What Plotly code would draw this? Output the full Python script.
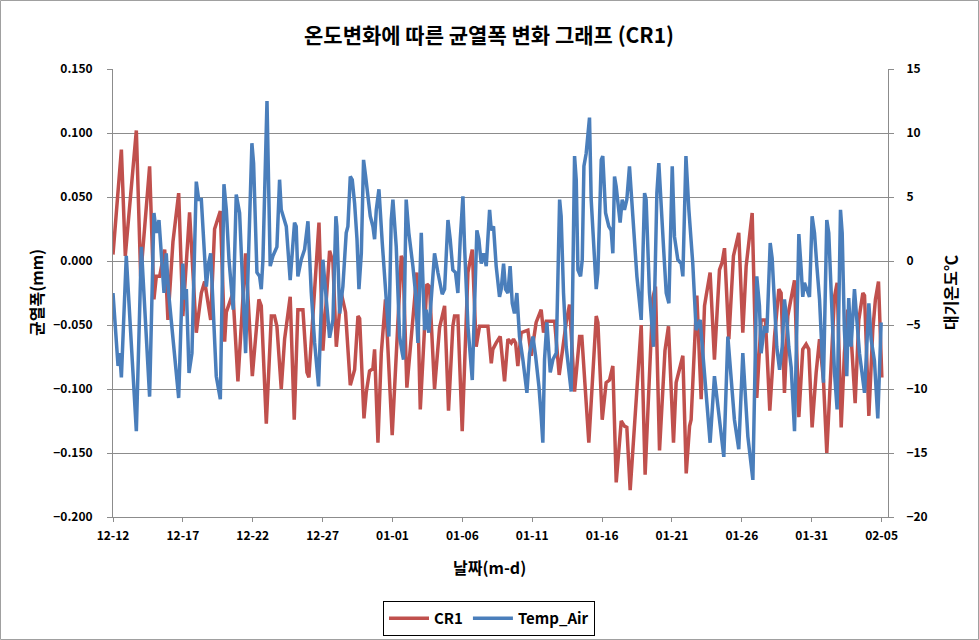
import plotly.graph_objects as go
import pandas as pd

START = "2013-12-12"
FONT = "Noto Sans CJK KR"

# CR1 crack width (mm): day offset from 12-12, value
cr_days = [0, 0.6, 0.88, 1.67, 1.98, 2.62, 2.93, 3.1, 3.34, 3.7, 3.93, 4.29, 4.7, 5.0, 5.48, 5.96, 6.32, 6.56, 6.99, 7.27,
           7.68, 7.99, 8.11, 8.58, 8.94, 9.49, 9.97, 10.44, 10.61, 10.97, 11.33, 11.56, 11.73, 12.04, 12.28, 12.68, 12.97,
           13.23, 13.59, 13.88, 14.02, 14.74, 15.02, 15.5, 15.74, 15.98, 16.33, 16.64, 16.98, 17.29, 17.53, 17.65, 17.96,
           18.12, 18.36, 18.6, 18.72, 18.96, 19.2, 19.5, 19.98, 20.63, 20.75, 21.03, 21.75, 21.99, 22.46, 22.65, 23.01,
           23.37, 23.73, 24.01, 24.32, 24.44, 24.68, 24.99, 25.4, 25.71, 25.99, 26.23, 26.47, 26.83, 27.07, 27.18, 27.42,
           27.71, 28.02, 28.26, 28.5, 28.66, 28.81, 28.97, 29.21, 29.69, 29.93, 30.28, 30.64, 30.81, 31.0, 31.24, 31.6,
           31.93, 32.19, 32.43, 32.67, 33.03, 33.39, 33.55, 34.05, 34.58, 34.7, 35.01, 35.29, 35.53, 35.77, 36.01, 36.37,
           36.6, 36.77, 37.01, 37.8, 38.08, 38.63, 38.82, 39.11, 39.5, 39.75, 40.11, 40.3, 40.54, 40.78, 41.02, 41.26,
           41.37, 41.78, 42.09, 42.33, 42.45, 42.73, 43.04, 43.4, 43.59, 43.76, 44.07, 44.4, 44.78, 45.07, 45.31, 45.74,
           46.07, 46.38, 46.69, 47.0, 47.34, 47.65, 47.81, 48.05, 48.29, 48.53, 48.77, 49.08, 49.25, 49.36, 49.6, 49.79,
           50.03, 50.32, 50.56, 50.84, 51.08, 51.34, 51.63, 51.82, 52.11, 52.34, 52.58, 52.82, 53.11, 53.37, 53.66, 53.78,
           54.09, 54.37, 54.56, 54.78, 55.02]
cr_vals = [0.005, 0.087, 0.004, 0.102, -0.012, 0.074, -0.030, -0.012, -0.012, 0.009, -0.046, 0.015, 0.053, -0.043, 0.038,
           -0.056, -0.025, -0.016, -0.046, 0.025, 0.039, -0.063, -0.040, -0.025, -0.094, 0.006, -0.090, -0.030, -0.035,
           -0.127, -0.043, -0.043, -0.051, -0.100, -0.061, -0.028, -0.124, -0.038, -0.038, -0.087, -0.091, 0.030, -0.070,
           0.008, -0.001, -0.067, -0.025, -0.040, -0.097, -0.085, -0.043, -0.045, -0.123, -0.103, -0.086, -0.084, -0.069,
           -0.142, -0.072, -0.030, -0.136, 0.004, 0.001, -0.099, -0.009, -0.116, -0.018, -0.020, -0.100, -0.052, -0.035,
           -0.117, -0.051, -0.043, -0.043, -0.133, -0.009, 0.009, -0.067, -0.051, -0.051, -0.051, -0.080, -0.069, -0.064,
           -0.059, -0.094, -0.061, -0.064, -0.061, -0.064, -0.082, -0.056, -0.054, -0.074, -0.048, -0.038, -0.056, -0.047,
           -0.047, -0.047, -0.089, -0.067, -0.048, -0.034, -0.102, -0.059, -0.059, -0.142, -0.043, -0.048, -0.124, -0.095,
           -0.093, -0.082, -0.173, -0.125, -0.129, -0.130, -0.179, -0.050, -0.167, -0.029, -0.020, -0.148, -0.070, -0.051,
           -0.142, -0.095, -0.085, -0.074, -0.166, -0.129, -0.124, -0.027, -0.108, -0.035, -0.027, -0.009, -0.077, -0.007,
           -0.001, 0.010, -0.061, 0.004, 0.022, -0.056, -0.004, 0.0375, -0.107, -0.046, -0.046, -0.117, -0.059, -0.022,
           -0.025, -0.103, -0.043, -0.028, -0.015, -0.122, -0.093, -0.069, -0.065, -0.069, -0.130, -0.087, -0.061, -0.093,
           -0.150, -0.087, -0.028, -0.017, -0.130, -0.072, -0.038, -0.059, -0.111, -0.046, -0.025, -0.027, -0.121, -0.054,
           -0.030, -0.016, -0.091]

# Air temperature (deg C): day offset from 12-12, value
t_days = [0, 0.36, 0.48, 0.6, 0.95, 1.67, 2.03, 2.62, 2.93, 3.1, 3.29, 3.5, 3.65, 3.81, 3.98, 4.7, 5.0, 5.13, 5.25, 5.44,
          5.65, 5.96, 6.13, 6.32, 6.68, 6.84, 6.99, 7.39, 7.68, 7.94, 8.11, 8.3, 8.46, 8.6, 8.82, 9.06, 9.49, 9.94, 10.06,
          10.3, 10.49, 10.61, 10.73, 11.02, 11.25, 11.45, 11.73, 11.92, 12.04, 12.28, 12.4, 12.68, 12.99, 13.11, 13.23,
          13.47, 13.71, 13.95, 14.19, 14.43, 14.71, 15.02, 15.26, 15.5, 15.74, 15.95, 16.02, 16.22, 16.45, 16.69, 16.81,
          16.98, 17.12, 17.29, 17.46, 17.6, 17.77, 17.93, 18.08, 18.24, 18.41, 18.6, 18.72, 18.84, 19.03, 19.27, 19.43,
          19.55, 19.74, 19.91, 20.03, 20.27, 20.51, 20.7, 20.79, 20.98, 21.17, 21.46, 21.65, 21.82, 22.06, 22.3, 22.41,
          22.6, 22.77, 23.01, 23.25, 23.45, 23.56, 23.73, 23.97, 24.13, 24.32, 24.51, 24.68, 24.85, 25.04, 25.16, 25.4,
          25.71, 25.87, 26.04, 26.18, 26.35, 26.52, 26.71, 26.95, 27.07, 27.23, 27.42, 27.66, 27.78, 27.95, 28.09, 28.26,
          28.42, 28.57, 28.73, 28.9, 29.09, 29.33, 29.62, 29.81, 30.05, 30.24, 30.48, 30.64, 30.76, 30.88, 31.05, 31.29,
          31.48, 31.72, 31.96, 32.07, 32.24, 32.43, 32.79, 33.03, 33.15, 33.27, 33.46, 33.58, 33.7, 33.86, 33.98, 34.1,
          34.22, 34.34, 34.58, 34.7, 34.94, 35.05, 35.25, 35.48, 35.65, 35.77, 35.89, 36.01, 36.13, 36.29, 36.44, 36.6,
          36.77, 36.96, 37.2, 37.49, 37.8, 38.04, 38.15, 38.39, 38.68, 38.92, 39.06, 39.23, 39.4, 39.59, 39.78, 40.02,
          40.18, 40.42, 40.66, 40.78, 41.0, 41.21, 41.49, 41.73, 42.02, 42.21, 42.45, 42.73, 43.04, 43.28, 43.52, 43.71,
          44.0, 44.24, 44.47, 44.78, 45.07, 45.43, 45.79, 46.07, 46.26, 46.38, 46.62, 46.79, 47.03, 47.17, 47.34, 47.5,
          47.7, 47.89, 48.05, 48.22, 48.36, 48.53, 48.77, 49.08, 49.25, 49.36, 49.48, 49.65, 49.84, 50.03, 50.2, 50.37,
          50.56, 50.84, 51.08, 51.22, 51.39, 51.63, 51.82, 52.06, 52.18, 52.34, 52.51, 52.65, 52.82, 53.06, 53.23, 53.42,
          53.78, 54.09, 54.25, 54.49, 54.73, 54.97]
t_vals = [-2.5, -8.2, -7.2, -9.1, 0.4, -13.3, 1.1, -10.6, 3.75, 2.2, 3.2, 0.1, -2.5, 0.6, -2.5, -10.7, -0.2, -3.0, -2.2,
          -8.75, -7.2, 6.2, 4.8, 4.8, -2.0, -0.2, 0.6, -9.0, -10.8, 6.0, 4.0, 0.1, -2.5, -3.8, 5.2, 3.75, -7.2, 9.2, 7.65,
          -0.9, -1.2, -2.2, 0.1, 12.5, -0.4, 0.4, 1.1, 6.35, 4.0, 3.0, 2.7, -1.5, 3.0, 2.7, -1.2, 0.1, 0.9, 3.1, -2.5, -6.4,
          -9.8, 0.1, -2.8, -6.0, -4.6, 3.5, 2.7, -4.1, -2.0, 2.2, 2.7, 6.6, 6.35, 4.5, 1.7, -2.2, 0.6, 7.9, 6.6, 4.8, 3.5,
          2.7, 1.7, 4.0, 5.6, 1.4, -1.2, -3.0, -5.9, 3.2, 4.8, 1.1, -5.9, -7.2, -7.7, 4.8, 2.2, -0.4, -2.5, -6.4, 2.2, -5.4,
          -3.8, -5.6, -3.0, 0.6, -0.9, -2.0, -2.6, -2.2, 3.2, 1.7, -0.7, -0.9, -2.5, 1.7, 5.05, 1.1, -5.1, -9.3, -2.5, 2.4,
          1.7, -0.2, 0.6, -0.4, 4.0, 2.4, 2.7, -0.4, -2.8, -2.2, -0.2, -2.2, -2.5, -0.4, -3.3, -4.1, -2.5, -5.9, -7.7, -10.3,
          -7.2, -5.9, -7.4, -9.8, -12.1, -14.2, -7.7, -4.8, -8.7, -7.7, -7.2, 4.8, 3.5, -2.5, -6.7, -10.2, 8.2, 6.35, -0.7,
          -1.2, 0.1, 7.4, 8.4, 9.7, 11.2, 4.8, 2.2, -2.2, -0.9, 7.9, 8.2, 3.75, 2.7, 2.4, 0.6, 6.6, 5.8, 4.8, 3.0, 4.8, 4.0,
          4.8, 7.4, 3.5, -1.2, -4.6, 5.3, 4.8, -2.5, -6.7, 5.3, 7.65, 4.8, 1.0, -2.5, -3.3, 7.4, 1.9, 0.1, -0.2, -1.2, 8.2,
          4.0, -0.2, -5.4, -4.6, -7.2, -10.3, -14.2, -9.0, -11.4, -13.4, -15.3, -5.9, -9.3, -12.4, -14.7, -7.2, -13.7,
          -17.1, -1.2, -3.5, -7.2, -5.1, -5.6, 1.4, 0.2, -2.8, -6.7, -8.5, -6.7, -3.0, -4.6, -6.7, -8.3, -13.3, 2.1, -0.7,
          -2.8, -1.7, -2.2, -2.8, 3.5, 2.2, -0.4, -3.0, -9.5, 3.2, 2.2, -2.2, -8.7, -11.6, 4.0, 2.2, -5.4, -9.0, -2.9, -6.7,
          -2.2, -4.6, -7.2, -10.3, -3.3, -6.1, -7.8, -12.3, -4.8]

x_range_days = [0, 55.46]

start = pd.Timestamp(START)
cr_x = start + pd.to_timedelta(cr_days, unit="D")
t_x = start + pd.to_timedelta(t_days, unit="D")
x0 = start + pd.to_timedelta(x_range_days[0], unit="D")
x1 = start + pd.to_timedelta(x_range_days[1], unit="D")

RED = "#C0504D"
BLUE = "#4A7EBB"
GRID = "#8C8C8C"

fig = go.Figure()
fig.add_trace(go.Scatter(x=cr_x, y=cr_vals, name="CR1", mode="lines",
                         line=dict(color=RED, width=3.5), yaxis="y"))
fig.add_trace(go.Scatter(x=t_x, y=t_vals, name="Temp_Air", mode="lines",
                         line=dict(color=BLUE, width=3.5), yaxis="y2"))

W, H = 979, 640
L, R, T, B = 113, 888, 69, 517
pw, ph = R - L, B - T

def px(xp):
    return (xp - L) / pw

def py(yp):
    return (B - yp) / ph

tickfont = dict(family=FONT, size=12, color="black", weight="bold")

fig.update_layout(
    width=W, height=H,
    margin=dict(l=L, r=W - R, t=T, b=H - B, autoexpand=False),
    paper_bgcolor="white", plot_bgcolor="white",
    font=dict(family=FONT, color="black"),
    title=dict(text="온도변화에 따른 균열폭 변화 그래프 (CR1)", x=px(489), xref="paper", xanchor="center",
               y=1 - 36 / H, yref="container", yanchor="middle",
               font=dict(family=FONT, size=21, color="black", weight="bold")),
    xaxis=dict(type="date", range=[x0, x1], tick0=start, dtick=5 * 86400000, tickformat="%m-%d",
               showgrid=False, showline=True, linecolor=GRID, linewidth=1,
               ticks="outside", ticklen=4, tickcolor=GRID, tickfont=tickfont, ticklabelstandoff=4),
    yaxis=dict(range=[-0.2, 0.15], dtick=0.05, tickformat=".3f", showgrid=True, gridcolor=GRID, gridwidth=1,
               showline=True, linecolor=GRID, ticks="outside", ticklen=5, tickcolor=GRID,
               tickfont=tickfont, ticklabelstandoff=12, zeroline=False),
    yaxis2=dict(range=[-20, 15], dtick=5, overlaying="y", side="right", showgrid=False,
                showline=True, linecolor=GRID, ticks="outside", ticklen=5, tickcolor=GRID,
                tickfont=tickfont, ticklabelstandoff=10, zeroline=False),
    legend=dict(orientation="h", x=px(489), xanchor="center", y=py(601), yanchor="top",
                bordercolor="black", borderwidth=1, bgcolor="white",
                font=dict(family=FONT, size=15, color="black", weight="bold"),
                itemwidth=40, tracegroupgap=0),
    showlegend=True,
)

fig.add_annotation(text="균열폭(mm)", x=px(36), y=py(293), xref="paper", yref="paper",
                   textangle=-90, showarrow=False, xanchor="center", yanchor="middle",
                   font=dict(family=FONT, size=16, color="black", weight="bold"))
fig.add_annotation(text="대기온도℃", x=px(950), y=py(293), xref="paper", yref="paper",
                   textangle=-90, showarrow=False, xanchor="center", yanchor="middle",
                   font=dict(family=FONT, size=16, color="black", weight="bold"))
fig.add_annotation(text="날짜(m-d)", x=px(489), y=py(567), xref="paper", yref="paper",
                   showarrow=False, xanchor="center", yanchor="middle",
                   font=dict(family=FONT, size=16, color="black", weight="bold"))

fig.add_shape(type="rect", xref="paper", yref="paper",
              x0=px(0.5), x1=px(978.5), y0=py(639.5), y1=py(0.5),
              line=dict(color="#A0A0A0", width=1), fillcolor="rgba(0,0,0,0)", layer="below")

fig.write_html("out.html", config={"displayModeBar": False},
               post_script="document.body.style.margin='0';document.body.style.padding='0';"
                           "document.body.style.overflow='hidden';")
